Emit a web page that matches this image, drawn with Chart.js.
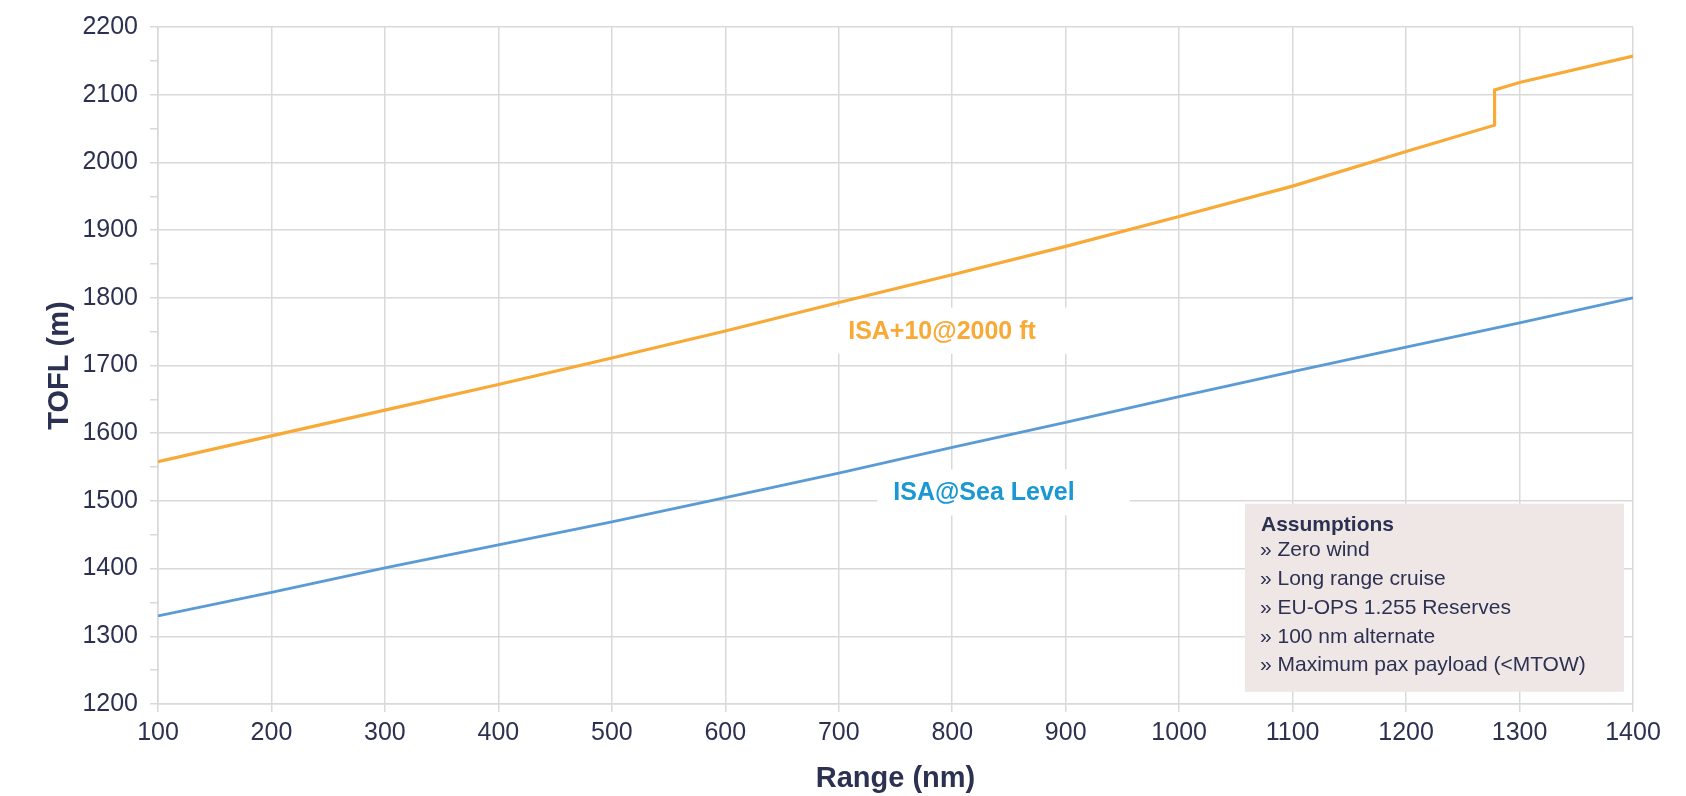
<!DOCTYPE html>
<html>
<head>
<meta charset="utf-8">
<title>TOFL vs Range</title>
<script src="https://cdn.jsdelivr.net/npm/chart.js@4"></script>
<style>
    html, body { margin: 0; padding: 0; background: #ffffff; }
    #wrap { width: 1686px; height: 796px; position: relative; }
</style>
</head>
<body>
<div id="wrap"><canvas id="toflChart"></canvas></div>
<script>
/* Data */
const seaLevelRange = [100, 200, 300, 400, 500, 600, 700, 800, 900, 1000, 1100, 1200, 1300, 1400];
const seaLevelTofl = [1330, 1365, 1401, 1435, 1469, 1505, 1541, 1579, 1616, 1654, 1691, 1727, 1763, 1800];

const hotRange = [100, 200, 300, 400, 500, 600, 700, 800, 900, 1000, 1100, 1200, 1278, 1278, 1300, 1400];
const hotTofl = [1558, 1596, 1634, 1672, 1711, 1751, 1793, 1834, 1876, 1920, 1965, 2016, 2055, 2107, 2118, 2157];

const xTicks = [100, 1400, 100];   // min, max, step
const yTicks = [1200, 2200, 100];

const seriesLabels = ["ISA@Sea Level", "ISA+10@2000 ft"];
const assumptions = [
    "» Zero wind",
    "» Long range cruise",
    "» EU-OPS 1.255 Reserves",
    "» 100 nm alternate",
    "» Maximum pax payload (<MTOW)"
];

/* Styles */
const FONT = "'Liberation Sans', Arial, sans-serif";
const INK = "#2c3152";
const GRID = "#d9d9d9";
const ORANGE = "#f8a936";
const BLUE_LINE = "#5b9bd5";
const BLUE_TEXT = "#1b98d3";

function toPoints(xs, ys) {
    return xs.map((x, i) => ({ x: x, y: ys[i] }));
}

// series labels with a white box behind them (hides the grid)
const seriesLabelPlugin = {
    id: "seriesLabels",
    beforeDatasetsDraw(chart) {
        const ctx = chart.ctx;
        const xs = chart.scales.x, ys = chart.scales.y;
        const items = [
            { text: seriesLabels[1], color: ORANGE, x: 791, y: 1750 },
            { text: seriesLabels[0], color: BLUE_TEXT, x: 828, y: 1511 },
        ];
        ctx.save();
        ctx.font = "bold 25px " + FONT;
        ctx.textAlign = "center";
        ctx.textBaseline = "middle";
        items.forEach(it => {
            const cx = xs.getPixelForValue(it.x);
            const cy = ys.getPixelForValue(it.y);
            const w = ctx.measureText(it.text).width;
            ctx.fillStyle = "#ffffff";
            ctx.fillRect(cx - w / 2 - 16, cy - 24, w + 71, 46);
            ctx.fillStyle = it.color;
            ctx.fillText(it.text, cx, cy);
        });
        ctx.restore();
    }
};

// assumptions box in the lower right corner
const assumptionsPlugin = {
    id: "assumptionsBox",
    afterDatasetsDraw(chart) {
        const ctx = chart.ctx;
        const xs = chart.scales.x, ys = chart.scales.y;
        const left = xs.getPixelForValue(1058);
        const right = xs.getPixelForValue(1392);
        const top = ys.getPixelForValue(1496);
        const bottom = ys.getPixelForValue(1218);
        ctx.save();
        ctx.fillStyle = "#efe7e6";
        ctx.fillRect(left, top, right - left, bottom - top);
        ctx.fillStyle = INK;
        ctx.textAlign = "left";
        ctx.textBaseline = "middle";
        ctx.font = "bold 21px " + FONT;
        ctx.fillText("Assumptions", left + 16, top + 22);
        ctx.font = "21px " + FONT;
        assumptions.forEach((line, i) => {
            ctx.fillText(line, left + 15, top + 47 + i * 28.7);
        });
        ctx.restore();
    }
};

document.addEventListener("DOMContentLoaded", () => {
    const chartElement = document.getElementById("toflChart");
    new Chart(chartElement, {
        type: "line",
        data: {
            datasets: [
                {
                    label: seriesLabels[1],
                    data: toPoints(hotRange, hotTofl),
                    borderColor: ORANGE,
                    borderWidth: 3.2,
                    pointRadius: 0,
                    tension: 0,
                },
                {
                    label: seriesLabels[0],
                    data: toPoints(seaLevelRange, seaLevelTofl),
                    borderColor: BLUE_LINE,
                    borderWidth: 2.8,
                    pointRadius: 0,
                    tension: 0,
                }
            ]
        },
        options: {
            responsive: true,
            maintainAspectRatio: false,
            animation: false,
            layout: {
                padding: { left: 0, top: 22, right: 53, bottom: 0 }
            },
            plugins: {
                legend: { display: false },
                title: { display: false },
                tooltip: { enabled: false }
            },
            scales: {
                x: {
                    type: "linear",
                    min: xTicks[0],
                    max: xTicks[1],
                    ticks: {
                        stepSize: xTicks[2],
                        color: INK,
                        font: { family: FONT, size: 25 },
                        padding: 6,
                        maxRotation: 0,
                        callback: (value) => String(value)
                    },
                    grid: {
                        color: GRID,
                        lineWidth: 1.5,
                        tickLength: 8,
                        tickColor: GRID
                    },
                    border: { color: GRID, width: 1.5 },
                    title: {
                        display: true,
                        text: "Range (nm)",
                        color: INK,
                        font: { family: FONT, size: 29, weight: "bold" },
                        padding: { top: 2, bottom: 0 }
                    },
                    afterFit: (scale) => { scale.height = 92; }
                },
                y: {
                    min: yTicks[0],
                    max: yTicks[1],
                    ticks: {
                        stepSize: yTicks[2] / 2,
                        color: INK,
                        font: { family: FONT, size: 25 },
                        padding: 12,
                        callback: (value) => value % yTicks[2] === 0 ? String(value) : ""
                    },
                    grid: {
                        color: (c) => c.tick && c.tick.value % yTicks[2] === 0 ? GRID : "rgba(0,0,0,0)",
                        lineWidth: 1.5,
                        tickLength: 8,
                        tickColor: GRID
                    },
                    border: { color: GRID, width: 1.5 },
                    title: {
                        display: true,
                        text: "TOFL (m)",
                        color: INK,
                        font: { family: FONT, size: 29, weight: "bold" },
                        padding: { top: 43, bottom: 0 }
                    },
                    afterFit: (scale) => { scale.width = 158; }
                }
            }
        },
        plugins: [seriesLabelPlugin, assumptionsPlugin]
    });
    console.log("TOFL chart initialized.");
});
</script>
</body>
</html>
